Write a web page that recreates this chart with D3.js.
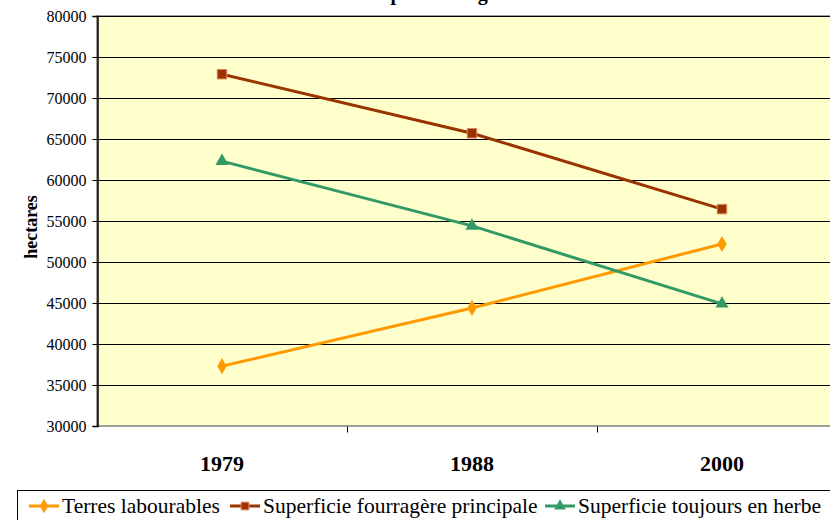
<!DOCTYPE html>
<html>
<head>
<meta charset="utf-8">
<script src="https://cdn.jsdelivr.net/npm/d3@7"></script>
<style>
  body { margin: 0; background: #fff; }
  svg { display: block; }
  svg text { font-family: "Liberation Serif", "Times New Roman", Times, "DejaVu Serif", serif; fill: #000; }
</style>
</head>
<body>
<script>
// données
const years = ["1979", "1988", "2000"];
const terresLabourables = [37300, 44400, 52200];
const fourragere = [72900, 65700, 56450];
const toujoursHerbe = [62300, 54400, 44900];
const yTicks = [30000, 35000, 40000, 45000, 50000, 55000, 60000, 65000, 70000, 75000, 80000];

const series = [
  { name: "Terres labourables", values: terresLabourables, color: "#FF9900", marker: "diamond" },
  { name: "Superficie fourragère principale", values: fourragere, color: "#993300", marker: "square" },
  { name: "Superficie toujours en herbe", values: toujoursHerbe, color: "#339966", marker: "triangle" }
];

const width = 830, height = 520;
const plot = { left: 97, right: 847, top: 16, bottom: 426 };

const svg = d3.select("body").append("svg")
  .attr("width", width).attr("height", height);

// titre (coupé en haut, comme sur l'original)
svg.append("text")
  .attr("x", 440).attr("y", 0)
  .attr("text-anchor", "middle")
  .attr("font-weight", "bold").attr("font-size", 20)
  .text("Les superficies agricoles");

const x = d3.scalePoint().domain(years).range([plot.left, plot.right]).padding(0.5);
const xBand = d3.scaleBand().domain(years).range([plot.left, plot.right]);
const y = d3.scaleLinear().domain([30000, 80000]).range([plot.bottom, plot.top]);

// fond
svg.append("rect")
  .attr("x", plot.left).attr("y", plot.top)
  .attr("width", plot.right - plot.left).attr("height", plot.bottom - plot.top)
  .attr("fill", "#FFFFCC").attr("stroke", "#808080").attr("stroke-width", 1.5);

// grille
svg.append("g").selectAll("line").data(yTicks.slice(1)).enter().append("line")
  .attr("x1", plot.left).attr("x2", plot.right)
  .attr("y1", d => Math.round(y(d)) + 0.5).attr("y2", d => Math.round(y(d)) + 0.5)
  .attr("stroke", "#000").attr("stroke-width", 1);

// axe y
const yAxis = svg.append("g")
  .attr("transform", `translate(${plot.left + 0.5},0)`)
  .call(d3.axisLeft(y).tickValues(yTicks).tickSize(5).tickPadding(6).tickFormat(d3.format("d")));
yAxis.select(".domain").attr("stroke", "#000").attr("stroke-width", 1.5);
yAxis.selectAll("text").attr("font-size", 16);
yAxis.selectAll(".tick line").attr("stroke", "#000");

// axe x
const xAxis = svg.append("g")
  .attr("transform", `translate(0,${plot.bottom + 0.5})`)
  .call(d3.axisBottom(xBand).tickValues([]).tickSizeOuter(0));
xAxis.select(".domain").remove();
xAxis.selectAll(".bnd").data(years.slice(1)).enter().append("line")
  .attr("x1", d => xBand(d) + 0.5).attr("x2", d => xBand(d) + 0.5)
  .attr("y1", 0).attr("y2", 6).attr("stroke", "#000");
xAxis.selectAll(".lbl").data(years).enter().append("text")
  .attr("x", d => x(d)).attr("y", 44)
  .attr("text-anchor", "middle")
  .attr("font-weight", "bold").attr("font-size", 22)
  .text(d => d);

// titre axe y
svg.append("text")
  .attr("transform", "translate(37,227) rotate(-90)")
  .attr("text-anchor", "middle")
  .attr("font-weight", "bold").attr("font-size", 18)
  .text("hectares");

function markerPath(type, size) {
  if (type === "diamond") return d3.symbol(d3.symbolDiamond, size)();
  if (type === "square") return d3.symbol(d3.symbolSquare, size)();
  return d3.symbol(d3.symbolTriangle, size)();
}

const line = d3.line().x((d, i) => x(years[i])).y(d => y(d));

series.forEach(s => {
  svg.append("path")
    .datum(s.values)
    .attr("d", line)
    .attr("fill", "none").attr("stroke", s.color).attr("stroke-width", 3);
  svg.append("g").selectAll("path").data(s.values).enter().append("path")
    .attr("transform", (d, i) => `translate(${x(years[i])},${y(d)})`)
    .attr("d", markerPath(s.marker, s.marker === "square" ? 90 : 75))
    .attr("fill", s.color)
    .attr("stroke", s.marker === "square" ? "#E08060" : "none")
    .attr("stroke-width", 1);
});

// légende
const legend = svg.append("g");
legend.append("rect")
  .attr("x", 17.5).attr("y", 490.5).attr("width", 830).attr("height", 40)
  .attr("fill", "#fff").attr("stroke", "#000").attr("stroke-width", 1);
const legendX = [29, 230, 545];
series.forEach((s, i) => {
  const g = legend.append("g").attr("transform", `translate(${legendX[i]},506)`);
  g.append("line").attr("x1", 0).attr("x2", 30).attr("y1", 0).attr("y2", 0)
    .attr("stroke", s.color).attr("stroke-width", 3);
  g.append("path").attr("transform", "translate(15,0)")
    .attr("d", markerPath(s.marker, 60)).attr("fill", s.color)
    .attr("stroke", s.marker === "square" ? "#E08060" : "none");
  g.append("text").attr("x", 33).attr("y", 7)
    .attr("font-size", 21.5)
    .text(s.name);
});
</script>
</body>
</html>
